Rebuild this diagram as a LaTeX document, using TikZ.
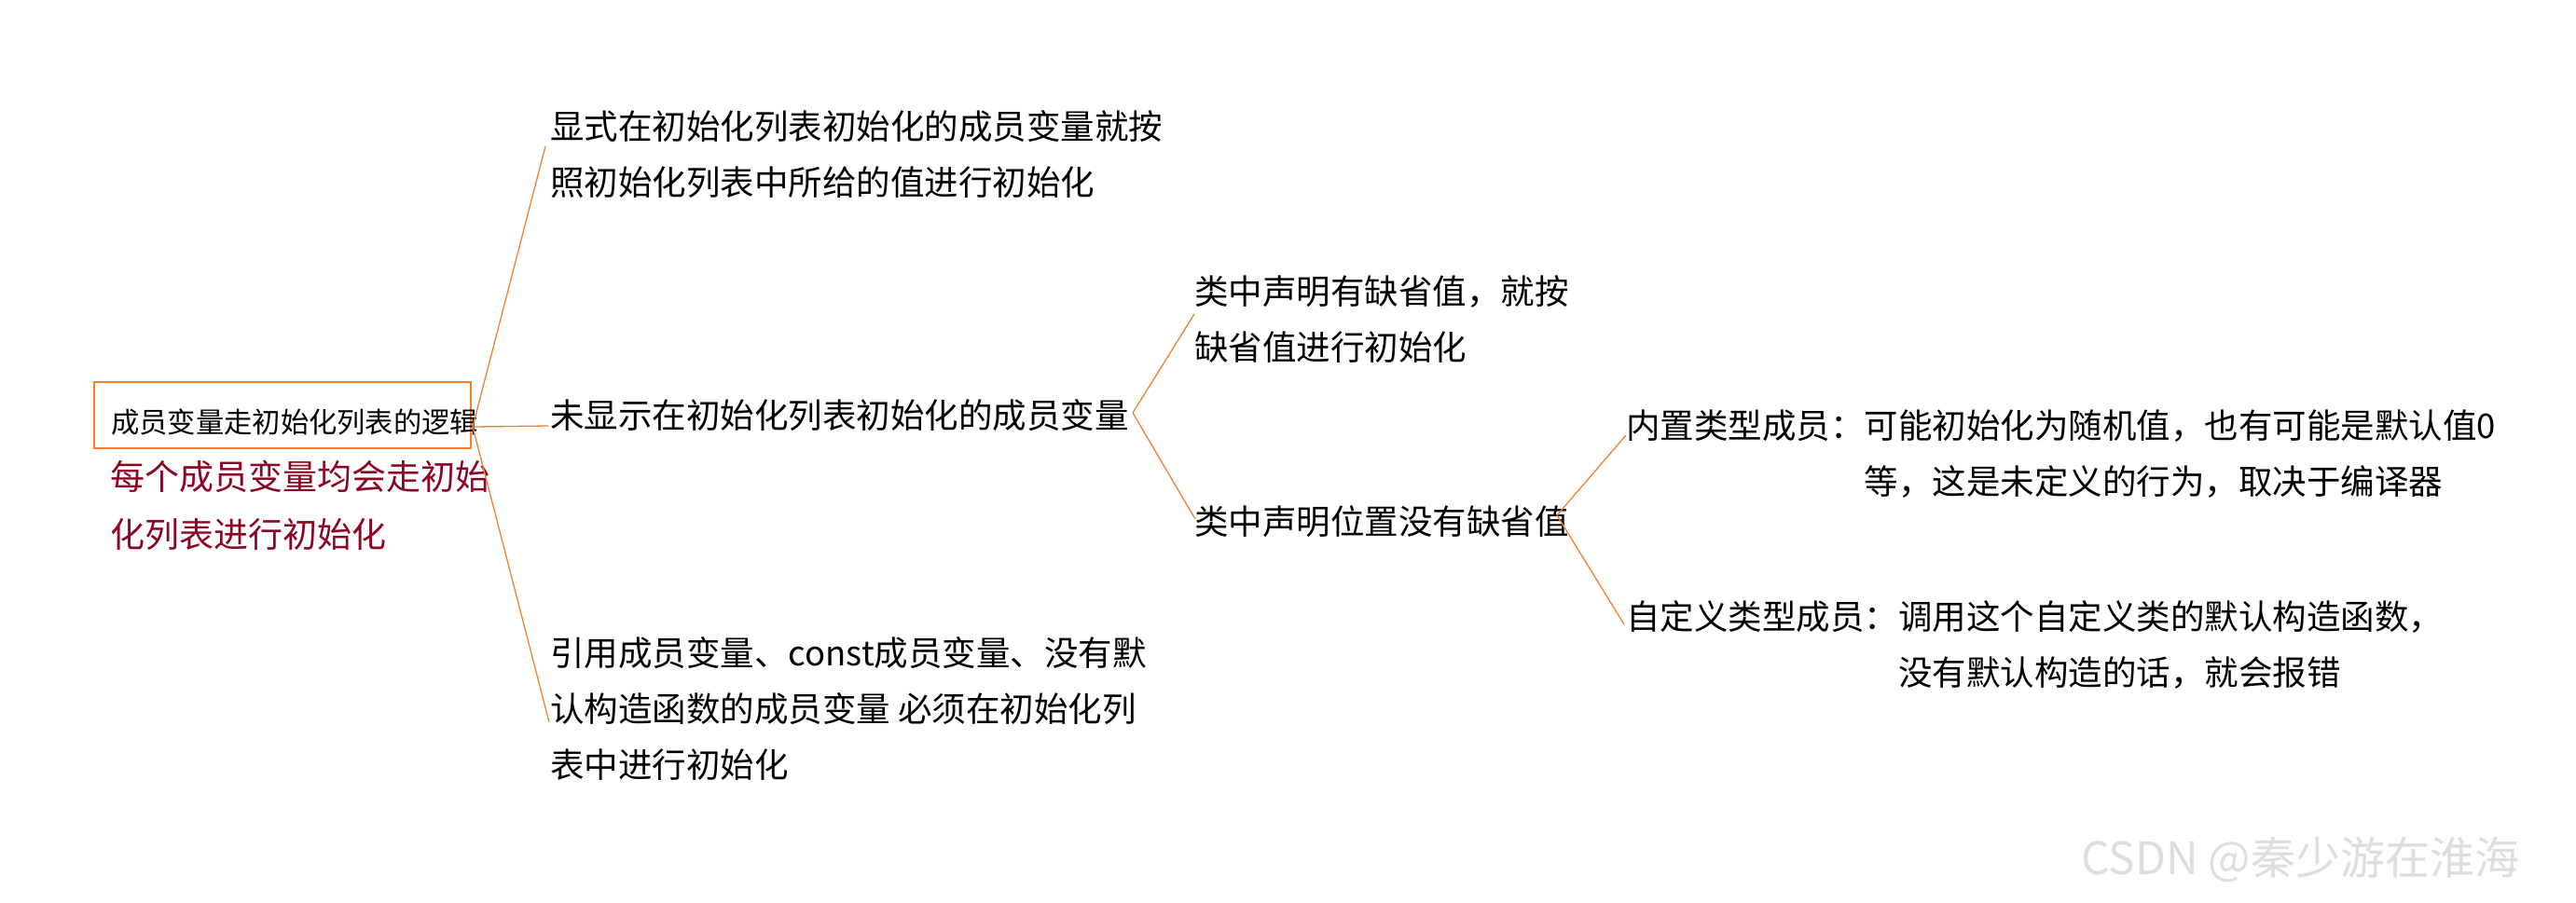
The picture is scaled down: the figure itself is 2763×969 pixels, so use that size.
\documentclass[tikz,border=0pt]{standalone}
\usepackage{fontspec}
\setmainfont{Noto Sans CJK SC}
\usetikzlibrary{calc}
\definecolor{lineorange}{RGB}{242,128,48}
\definecolor{notered}{RGB}{140,5,35}
\definecolor{wmgray}{RGB}{222,222,222}
\newcommand{\mlines}[1]{\begin{tabular}[t]{@{}l@{}}#1\end{tabular}}
\newcommand{\hanglines}[1]{\begin{tabular}[t]{@{}l@{}l@{}}#1\end{tabular}}
\tikzset{
  txt/.style={anchor=base west, inner sep=0pt, text=black, font=\fontsize{36.5}{60}\selectfont},
  roottxt/.style={anchor=base west, inner sep=0pt, text=black, font=\fontsize{30.3}{40}\selectfont},
  notetxt/.style={anchor=base west, inner sep=0pt, text=notered, font=\fontsize{37}{62}\selectfont},
  rootframe/.style={draw=lineorange, line width=1.6pt, inner sep=0pt, anchor=north west, minimum width=404pt, minimum height=71pt},
  conn/.style={draw=lineorange, line width=1.3pt},
  wm/.style={anchor=base west, inner sep=0pt, text=wmgray, font=\fontsize{48}{56}\selectfont}
}
\begin{document}
\begin{tikzpicture}[x=1pt,y=-1pt]
\useasboundingbox (0,0) rectangle (2763,969);
\fill[white] (0,0) rectangle (2763,969);

% root
\node[rootframe] (rootbox) at (100,409) {};
\node[roottxt] (root) at (119,464) {成员变量走初始化列表的逻辑};
\node[notetxt] (note) at (118,525) {\mlines{每个成员变量均会走初始\\化列表进行初始化}};

% level 1
\node[txt] (explicit) at (590,149) {\mlines{显式在初始化列表初始化的成员变量就按\\照初始化列表中所给的值进行初始化}};
\node[txt] (implicit) at (590,459) {未显示在初始化列表初始化的成员变量};
\node[txt] (must) at (590,714) {\mlines{引用成员变量、const成员变量、没有默\\认构造函数的成员变量 必须在初始化列\\表中进行初始化}};

% level 2
\node[txt] (hasdef) at (1281,326) {\mlines{类中声明有缺省值，就按\\缺省值进行初始化}};
\node[txt] (nodef) at (1281,573) {类中声明位置没有缺省值};

% level 3
\node[txt] (builtin) at (1744,470) {\hanglines{内置类型成员：&可能初始化为随机值，也有可能是默认值0\\ &等，这是未定义的行为，取决于编译器}};
\node[txt] (custom) at (1744,675) {\hanglines{自定义类型成员：\hspace{-9pt}&调用这个自定义类的默认构造函数，\\ &没有默认构造的话，就会报错}};

% connector end points
\coordinate (rootOut) at (507,458);
\coordinate (explicitIn) at (585,157);
\coordinate (implicitIn) at (588,457);
\coordinate (mustIn) at (589,775);
\coordinate (implicitOut) at (1215,443);
\coordinate (hasdefIn) at (1281,337);
\coordinate (nodefIn) at (1282,557);
\coordinate (nodefOut) at (1670,553);
\coordinate (builtinIn) at (1744,467);
\coordinate (customIn) at (1742,670);

\draw[conn] (rootOut) -- (explicitIn);
\draw[conn] (rootOut) -- (implicitIn);
\draw[conn] (rootOut) -- (mustIn);
\draw[conn] (implicitOut) -- (hasdefIn);
\draw[conn] (implicitOut) -- (nodefIn);
\draw[conn] (nodefOut) -- (builtinIn);
\draw[conn] (nodefOut) -- (customIn);

% watermark
\node[wm] (mark) at (2232,938) {CSDN @秦少游在淮海};
\end{tikzpicture}
\end{document}
